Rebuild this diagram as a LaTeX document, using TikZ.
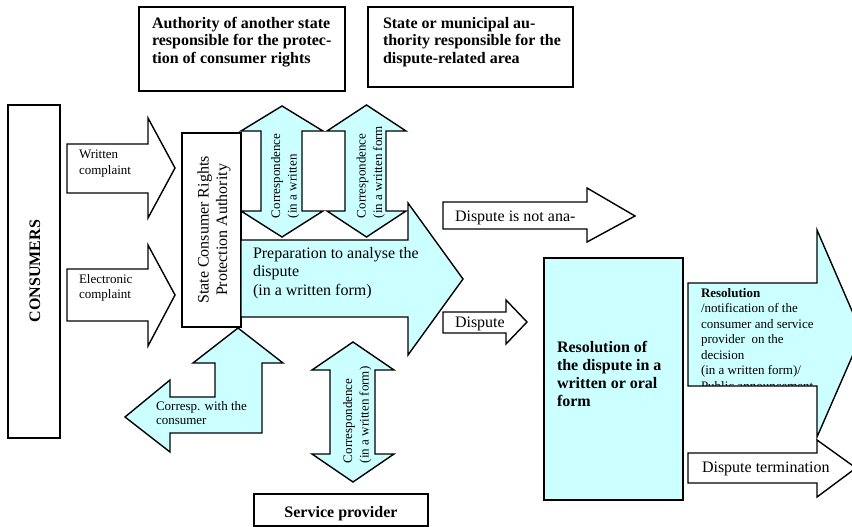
\documentclass[tikz,border=0pt]{standalone}
\usepackage{fontspec}
\setmainfont{Liberation Serif}
\definecolor{lcyan}{RGB}{204,255,255}
\newcommand\fbig{\fontsize{16}{18}\selectfont}
\newcommand\fbigb{\fontsize{16}{17.6}\selectfont\bfseries}
\newcommand\fsm{\fontsize{13}{15.8}\selectfont}
\tikzset{
  shp/.style={draw=black, line width=1.4pt, line join=miter},
  cy/.style={shp, fill=lcyan},
  wh/.style={shp, fill=white},
  txt/.style={inner sep=0pt, outer sep=0pt, align=left},
}
\begin{document}
\begin{tikzpicture}[x=1pt,y=-1pt]
\useasboundingbox (0,0) rectangle (852,527);
\clip (0,0) rectangle (852,527);
\fill[white] (0,0) rectangle (852,527);

% top boxes
\draw[shp] (139,7) rectangle (345,91);
\node[txt, anchor=north west, font=\fbigb] (auth) at (152,17)
  {Authority of another state\\responsible for the protec-\\tion of consumer rights};
\draw[shp] (368,7) rectangle (573,87);
\node[txt, anchor=north west, font=\fbigb] (muni) at (383,17)
  {State or municipal au-\\thority responsible for the\\dispute-related area};

% consumers
\draw[shp] (8,105) rectangle (60,438);
\node[txt, rotate=90, font=\fbigb] (cons) at (35,271) {CONSUMERS};

% complaint arrows
\draw[wh] (67,144) -- (148,144) -- (148,118) -- (175,168) -- (148,218) -- (148,193) -- (67,193) -- cycle;
\node[txt, anchor=north west, font=\fsm] (wc) at (79,150) {Written\\complaint};
\draw[wh] (67,269) -- (148,269) -- (148,245) -- (175,295) -- (148,346) -- (148,321) -- (67,321) -- cycle;
\node[txt, anchor=north west, font=\fsm] (ec) at (79,274) {Electronic\\complaint};

% upper double arrows
\draw[cy] (282,106) -- (323,131) -- (302,131) -- (302,211) -- (323,211) -- (282,237)
  -- (241,211) -- (261,211) -- (261,131) -- (241,131) -- cycle;
\node[txt, rotate=90, anchor=north west, font=\fontsize{13}{16.5}\selectfont] (c1) at (271,218)
  {Correspondence\\(in a written};
\draw[cy] (366.5,105) -- (406,131) -- (386,131) -- (386,211) -- (406,211) -- (366.5,237)
  -- (327,211) -- (345,211) -- (345,131) -- (327,131) -- cycle;
\node[txt, rotate=90, anchor=north west, font=\fontsize{13}{16.5}\selectfont] (c2) at (356.5,218)
  {Correspondence\\(in a written form};

% authority box
\draw[wh] (182,133) rectangle (241,327);
\node[inner sep=0pt, align=center, rotate=90, font=\fontsize{16}{18.5}\selectfont] (scrpa) at (214,230)
  {State Consumer Rights\\Protection Authority};

% preparation arrow
\draw[cy] (241,240) -- (408,240) -- (408,203) -- (463,279) -- (408,355) -- (408,317) -- (241,317) -- cycle;
\node[txt, anchor=north west, font=\fontsize{16}{18.5}\selectfont] (prep) at (253,247)
  {Preparation to analyse the\\dispute\\(in a written form)};

% dispute not analysed
\draw[wh] (443,202) -- (587,202) -- (587,188) -- (635,216) -- (587,242) -- (587,229) -- (443,229) -- cycle;
\node[txt, anchor=base west, font=\fbig] (dna) at (455,221) {Dispute is not ana-};

% dispute
\draw[wh] (443,312) -- (506,312) -- (506,300) -- (527,322) -- (506,344) -- (506,333) -- (443,333) -- cycle;
\node[txt, anchor=base west, font=\fbig] (disp) at (455,327) {Dispute};

% resolution box
\draw[cy] (544,258) rectangle (683,500);
\node[txt, anchor=north west, font=\fontsize{16}{18}\selectfont\bfseries] (resbox) at (557,341)
  {Resolution of\\the dispute in a\\written or oral\\form};

% right big arrow
\draw[cy] (688,283) -- (817,283) -- (817,230) -- (862,334) -- (817,437) -- (817,386) -- (688,386) -- cycle;
\begin{scope}
\clip (689,284) rectangle (816,385.2);
\node[txt, anchor=north west, font=\fontsize{13}{15.5}\selectfont] (resarr) at (701,288.2)
  {\textbf{Resolution}\\/notification of the\\consumer and service\\provider\ \ on the\\decision\\(in a written form)/\\Public announcement};
\end{scope}

% dispute termination
\draw[wh] (688,453) -- (817,453) -- (817,440) -- (856,468) -- (817,497) -- (817,483) -- (688,483) -- cycle;
\node[txt, anchor=base west, font=\fbig] (term) at (702,472) {Dispute termination};

% corresp with consumer L arrow
\draw[cy] (238,328) -- (283,363) -- (262,363) -- (262,433) -- (170,433) -- (170,452) -- (125,417)
  -- (170,380) -- (170,397) -- (215,397) -- (215,363) -- (193,363) -- cycle;
\node[txt, anchor=north west, font=\fontsize{13}{14.7}\selectfont] (corr) at (156,401)
  {Corresp. with the\\consumer};

% lower double arrow
\draw[cy] (353,342) -- (394,370) -- (375,370) -- (375,454) -- (394,454) -- (353,482)
  -- (312,454) -- (330,454) -- (330,370) -- (312,370) -- cycle;
\node[txt, rotate=90, anchor=north west, font=\fontsize{13}{16.5}\selectfont] (c3) at (343,463)
  {Correspondence\\(in a written form)};

% service provider
\draw[shp] (254,494) rectangle (428,526);
\node[txt, anchor=base, font=\fbigb] (sp) at (341,517) {Service provider};
\end{tikzpicture}
\end{document}
